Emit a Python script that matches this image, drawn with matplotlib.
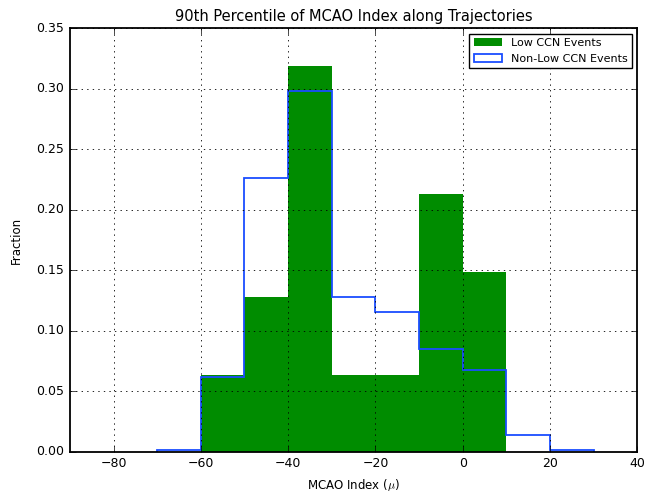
import numpy as np
import matplotlib
matplotlib.use('Agg')
import matplotlib.pyplot as plt

# bin edges (MCAO index) and fraction of events per bin
edges = np.arange(-70, 31, 10)
low_ccn = [0.0, 0.0638, 0.1277, 0.3191, 0.0638, 0.0638, 0.2128, 0.1489, 0.0, 0.0]
non_low_ccn = [0.002, 0.062, 0.226, 0.298, 0.128, 0.116, 0.085, 0.068, 0.014, 0.002]

centers = (edges[:-1] + edges[1:]) / 2

plt.style.use('classic')
plt.rcParams['font.family'] = 'DejaVu Sans'

fig = plt.figure(figsize=(6.47, 4.95), dpi=100, facecolor='white')
ax = fig.add_axes([0.108, 0.087, 0.877, 0.856])

ax.hist(centers, bins=edges, weights=low_ccn, color='#008c00', lw=0,
        label='Low CCN Events')
ax.hist(centers, bins=edges, weights=non_low_ccn, histtype='step', color='#1a4dff',
        lw=1.3, label='Non-Low CCN Events')

ax.set_xlim(-90, 40)
ax.set_ylim(0, 0.35)
ax.set_xticks(np.arange(-80, 41, 20))
ax.set_yticks(np.arange(0, 0.351, 0.05))
ax.tick_params(labelsize=9)
for s in ax.spines.values():
    s.set_linewidth(1.3)
ax.grid(True, color='k', linestyle=':', lw=0.6)

ax.set_title('90th Percentile of MCAO Index along Trajectories', fontsize=10.5)
ax.set_xlabel(r'MCAO Index ($\mu$)', fontsize=8.5)
ax.set_ylabel('Fraction', fontsize=8.5, labelpad=10)
ax.legend(loc='upper right', fontsize=8, handlelength=2.5)

fig.savefig('out.png', dpi=100, facecolor='white')
